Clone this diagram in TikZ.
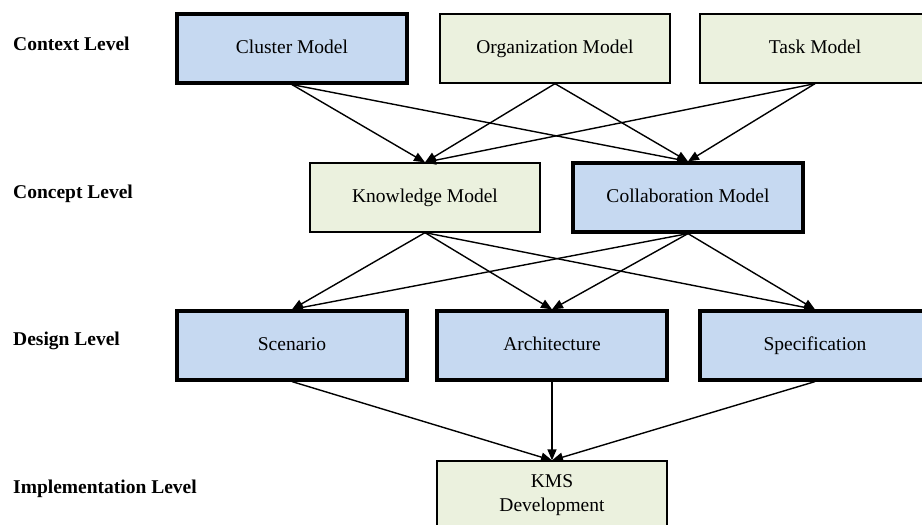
\documentclass[tikz,border=0pt]{standalone}
\usepackage{fontspec}
\setmainfont{Liberation Serif}
\usetikzlibrary{arrows.meta}
\definecolor{modelblue}{RGB}{198,217,241}
\definecolor{modelgreen}{RGB}{235,241,222}
\tikzset{
  box/.style={rectangle, inner sep=0pt, minimum width=230pt, minimum height=69pt,
    font=\fontsize{19.5}{24}\selectfont, align=center},
  oneline/.style={text height=13pt, text depth=4pt},
  corebox/.style={box, fill=modelblue, draw=black, line width=3.2pt},
  sidebox/.style={box, fill=modelgreen, draw=black, line width=1.3pt},
  levellabel/.style={anchor=west, inner sep=0pt, font=\fontsize{19.5}{24}\selectfont\bfseries,
    text height=13pt, text depth=4pt},
  link/.style={line width=1.4pt, -{Triangle[length=11pt,width=9pt]}}
}
\begin{document}
\begin{tikzpicture}[x=1pt, y=-1pt]
  \useasboundingbox (0,0) rectangle (922,525);
  \clip (0,0) rectangle (922,525);
  \fill[white] (0,0) rectangle (922,525);

  % level labels
  \node[levellabel] (lctx) at (13,46) {Context Level};
  \node[levellabel] (lcon) at (13,194) {Concept Level};
  \node[levellabel] (ldes) at (13,341) {Design Level};
  \node[levellabel] (limp) at (13,489) {Implementation Level};

  % context level
  \node[corebox, oneline] (cluster) at (292,48.5) {Cluster Model};
  \node[sidebox, oneline] (org) at (555,48.5) {Organization Model};
  \node[sidebox, oneline] (task) at (815,48.5) {Task Model};

  % concept level
  \node[sidebox, oneline] (know) at (425,197.5) {Knowledge Model};
  \node[corebox, oneline] (collab) at (688,197.5) {Collaboration Model};

  % design level
  \node[corebox, oneline] (scen) at (292,345.5) {Scenario};
  \node[corebox, oneline] (arch) at (552,345.5) {Architecture};
  \node[corebox, oneline] (spec) at (815,345.5) {Specification};

  % implementation level
  \node[sidebox] (kms) at (552,495.5) {KMS\\Development};

  % context -> concept
  \foreach \s in {cluster,org,task}{
    \draw[link] (\s.south) -- (know.north);
    \draw[link] (\s.south) -- (collab.north);
  }
  % concept -> design
  \foreach \s in {know,collab}{
    \draw[link] (\s.south) -- (scen.north);
    \draw[link] (\s.south) -- (arch.north);
    \draw[link] (\s.south) -- (spec.north);
  }
  % design -> implementation
  \foreach \s in {scen,arch,spec}{
    \draw[link] (\s.south) -- (kms.north);
  }
\end{tikzpicture}
\end{document}
